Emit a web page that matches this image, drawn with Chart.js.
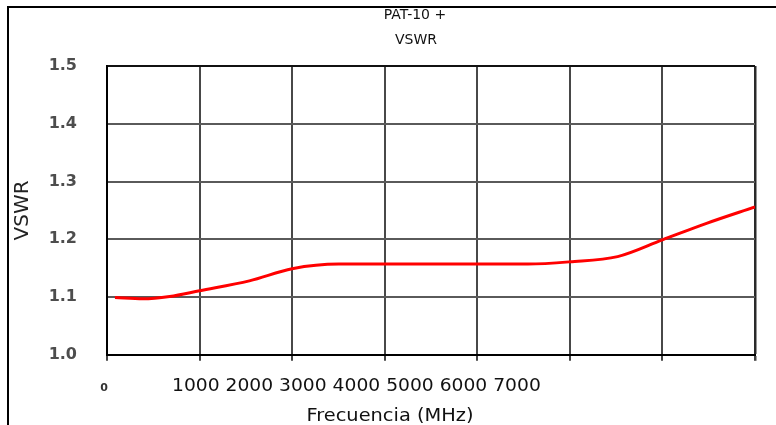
<!DOCTYPE html>
<html>
<head>
<meta charset="utf-8">
<script src="https://cdn.jsdelivr.net/npm/chart.js@4.4.1/dist/chart.umd.min.js"></script>
<style>
  html, body { margin: 0; padding: 0; background: #fff; }
  #wrap { position: relative; width: 776px; height: 425px; }
  #frame {
    position: absolute; left: 7px; top: 6px; right: 0; bottom: 0;
    border-top: 2px solid #000; border-left: 2px solid #000;
    pointer-events: none;
  }
</style>
</head>
<body>
<div id="wrap">
  <canvas id="chart" width="776" height="425"></canvas>
  <div id="frame"></div>
</div>
<script>
// data
const freqMHz = [86, 387, 677, 1000, 1538, 2000, 2505, 3000, 3473, 4000, 4548, 5000, 5516, 6000, 6484, 7000];
const vswr = [1.099, 1.097, 1.101, 1.111, 1.128, 1.149, 1.157, 1.157, 1.157, 1.157, 1.157, 1.161, 1.170, 1.199, 1.228, 1.256];

const xTickLabels = ['0', '1000', '2000', '3000', '4000', '5000', '6000', '7000'];
const titleLines = ['PAT-10 +', 'VSWR'];
const xAxisTitle = 'Frecuencia (MHz)';
const yAxisTitle = 'VSWR';

// draws the text that does not sit where Chart.js would put it
const looseText = {
    id: 'looseText',
    afterDraw(chart) {
        const ctx = chart.ctx;
        const draw = (text, x, y, font, align, sx) => {
            ctx.save();
            ctx.font = font;
            ctx.fillStyle = '#111';
            ctx.textAlign = align;
            ctx.textBaseline = 'middle';
            ctx.translate(x, y);
            ctx.scale(sx, 1);
            ctx.fillText(text, 0, 0);
            ctx.restore();
        };
        draw(titleLines[0], 415, 15, '14px "DejaVu Sans"', 'center', 1);
        draw(titleLines[1], 416, 40, '14px "DejaVu Sans"', 'center', 1);
        // the tick labels in the original are bunched up after the 0
        draw(xTickLabels.slice(1).join(' '), 172, 387, '17px "DejaVu Sans"', 'left', 1.1);
        draw(xAxisTitle, 390, 417, '17px "DejaVu Sans"', 'center', 1.14);
    }
};

new Chart(document.getElementById('chart'), {
    type: 'line',
    data: {
        datasets: [{
            label: 'VSWR',
            data: freqMHz.map((f, i) => ({ x: f, y: vswr[i] })),
            borderColor: '#ff0000',
            borderWidth: 3,
            pointRadius: 0,
            cubicInterpolationMode: 'monotone',
            fill: false
        }]
    },
    options: {
        responsive: false,
        animation: false,
        layout: {
            padding: { left: 8, right: 18, top: 66, bottom: 9 }
        },
        plugins: {
            legend: { display: false },
            title: { display: false },
            tooltip: { enabled: false }
        },
        scales: {
            x: {
                type: 'linear',
                min: 0,
                max: 7000,
                border: { color: '#000', width: 2 },
                grid: {
                    color: ctx => ctx.index === xTickLabels.length - 1 ? '#2a2a2a' : '#484848',
                    lineWidth: ctx => ctx.index === xTickLabels.length - 1 ? 2.5 : 2,
                    drawTicks: true,
                    tickLength: 6,
                    tickColor: '#444'
                },
                ticks: {
                    stepSize: 1000,
                    autoSkip: false,
                    maxRotation: 0,
                    padding: 21,
                    labelOffset: -3,
                    color: '#333',
                    font: { family: 'DejaVu Sans', size: 11, weight: 'bold' },
                    callback: (v, i) => i === 0 ? xTickLabels[0] : ''
                }
            },
            y: {
                min: 1.0,
                max: 1.5,
                border: { color: '#000', width: 2 },
                grid: {
                    color: ctx => ctx.index === 5 ? '#111' : '#5a5a5a',
                    lineWidth: 2,
                    drawTicks: false
                },
                ticks: {
                    stepSize: 0.1,
                    padding: 30,
                    color: '#4d4d4d',
                    font: { family: 'DejaVu Sans', size: 16, weight: 'bold' },
                    callback: v => v.toFixed(1)
                },
                title: {
                    display: true,
                    text: yAxisTitle,
                    color: '#222',
                    font: { family: 'DejaVu Sans', size: 20 },
                    padding: { top: 3, bottom: 4 }
                },
                afterFit: scale => { scale.width = 99; }
            }
        }
    },
    plugins: [looseText]
});
</script>
</body>
</html>
